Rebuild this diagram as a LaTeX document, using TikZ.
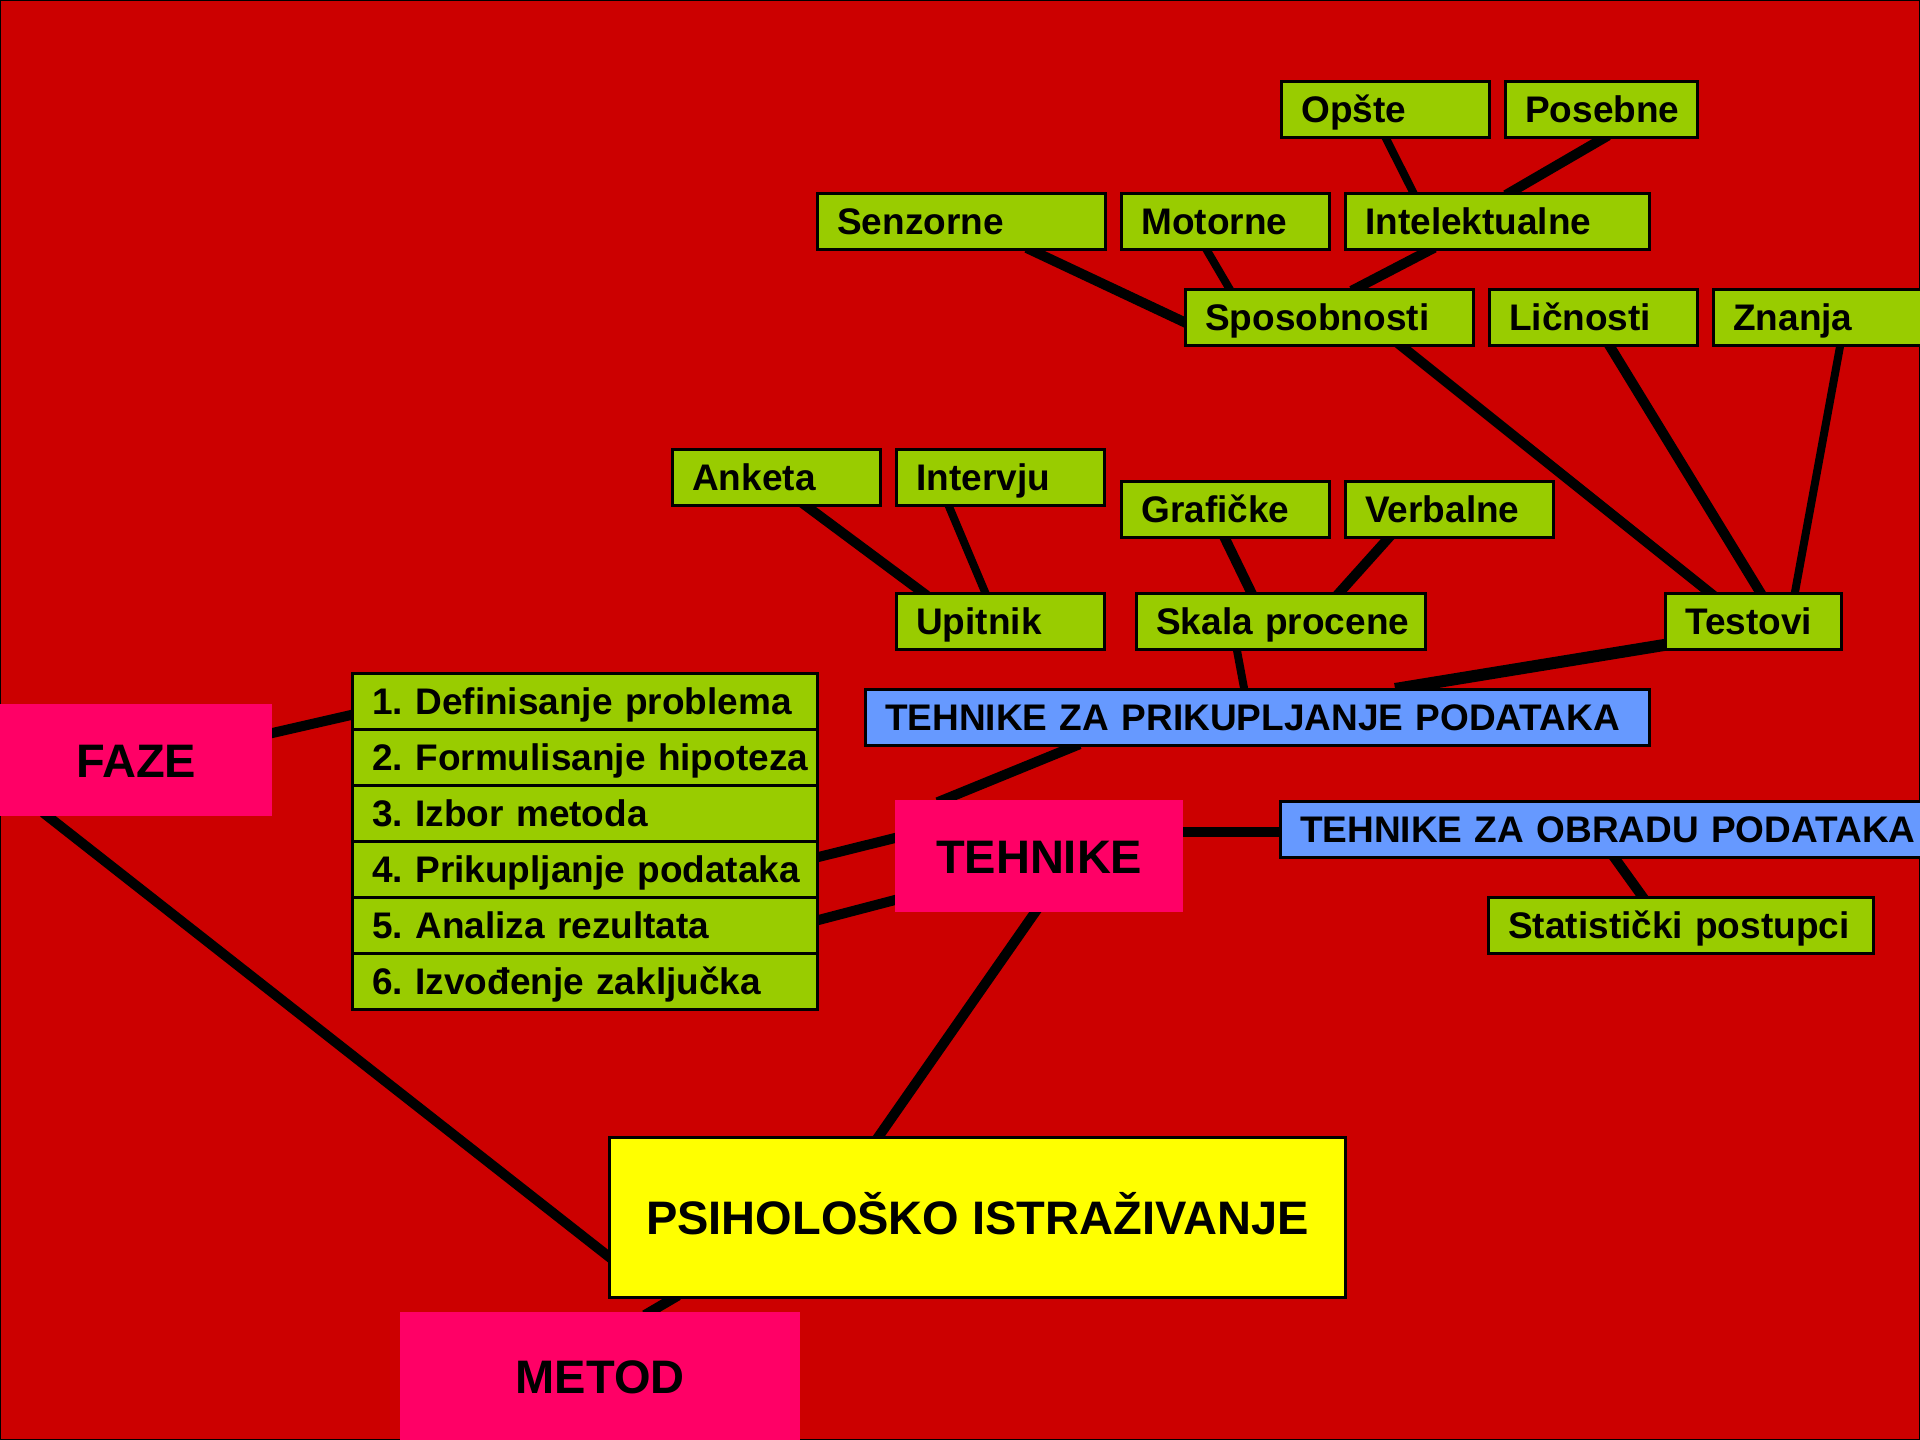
\documentclass[tikz,border=0pt]{standalone}
\usepackage{fontspec}
\setmainfont{Liberation Sans}
\usetikzlibrary{calc}
\pgfdeclarelayer{bg}
\pgfdeclarelayer{lines}
\pgfsetlayers{bg,lines,main}
\definecolor{slidered}{HTML}{CC0000}
\definecolor{boxgreen}{HTML}{99CC00}
\definecolor{boxblue}{HTML}{6699FF}
\definecolor{boxpink}{HTML}{FF0066}
\definecolor{boxyellow}{HTML}{FFFF00}
\begin{document}
\begin{tikzpicture}[x=1pt,y=-1pt,
  gbox/.style={draw=black, line width=2.5pt, fill=boxgreen, anchor=north west,
    inner xsep=0pt, inner ysep=0pt, minimum height=56pt, align=left,
    font=\fontsize{37}{44}\selectfont\bfseries\frenchspacing,
    execute at begin node={\hspace*{20pt}},
    text height=26.5pt, text depth=0pt},
  bbox/.style={gbox, fill=boxblue},
  pbox/.style={fill=boxpink, anchor=north west, inner sep=0pt, align=center,
    font=\fontsize{47}{56}\selectfont\bfseries, text height=33.7pt, text depth=0pt},
  ybox/.style={pbox, fill=boxyellow, draw=black, line width=2.5pt},
  conn/.style={line width=10pt, black, shorten <=-6pt, shorten >=-6pt}]
\useasboundingbox (0,0) rectangle (1920,1440);
\begin{pgfonlayer}{bg}
\fill[slidered] (0,0) rectangle (1920,1440);
\draw[line width=2pt] (0,0) rectangle (1920,1440);
\end{pgfonlayer}

% top tree
\node[gbox, text width=208pt] (opste) at (1280,80) {Opšte};
\node[gbox, text width=192pt] (posebne) at (1504,80) {Posebne};
\node[gbox, text width=288pt] (senz) at (816,192) {Senzorne};
\node[gbox, text width=208pt] (motor) at (1120,192) {Motorne};
\node[gbox, text width=304pt] (intel) at (1344,192) {Intelektualne};
\node[gbox, text width=288pt] (spos) at (1184,288) {Sposobnosti};
\node[gbox, text width=208pt] (lic) at (1488,288) {Ličnosti};
\node[gbox, text width=210pt] (znanja) at (1712,288) {Znanja};
\node[gbox, text width=208pt] (anketa) at (671,448) {Anketa};
\node[gbox, text width=208pt] (intervju) at (895,448) {Intervju};
\node[gbox, text width=208pt] (graf) at (1120,480) {Grafičke};
\node[gbox, text width=208pt] (verb) at (1344,480) {Verbalne};
\node[gbox, text width=208pt] (upitnik) at (895,592) {Upitnik};
\node[gbox, text width=289pt] (skala) at (1135,592) {Skala procene};
\node[gbox, text width=176pt] (testovi) at (1664,592) {Testovi};
\node[bbox, text width=784pt] (prik) at (864,688) {TEHNIKE ZA PRIKUPLJANJE PODATAKA};

% phases
\node[gbox, text width=465pt] (ph1) at (351,672) {1. Definisanje problema};
\node[gbox, text width=465pt] (ph2) at (351,728) {2. Formulisanje hipoteza};
\node[gbox, text width=465pt] (ph3) at (351,784) {3. Izbor metoda};
\node[gbox, text width=465pt] (ph4) at (351,840) {4. Prikupljanje podataka};
\node[gbox, text width=465pt] (ph5) at (351,896) {5. Analiza rezultata};
\node[gbox, text width=465pt] (ph6) at (351,952) {6. Izvođenje zaključka};

\node[pbox, minimum width=272pt, minimum height=112pt] (faze) at (0,704) {FAZE};
\node[pbox, minimum width=288pt, minimum height=112pt] (tehnike) at (895,800) {TEHNIKE};
\node[bbox, text width=660pt] (obrada) at (1279,800) {TEHNIKE ZA OBRADU PODATAKA};
\node[gbox, text width=385pt] (stat) at (1487,896) {Statistički postupci};
\node[ybox, minimum width=736pt, minimum height=160pt] (psih) at (608,1136) {PSIHOLOŠKO ISTRAŽIVANJE};
\node[pbox, minimum width=400pt, minimum height=128pt] (metod) at (400,1312) {METOD};

\begin{pgfonlayer}{lines}
\draw[conn] ($(faze.north east)+(0,29)$) -- ($(ph1.north west)+(0,43)$);
\draw[conn] ($(faze.south west)+(48,0)$) -- ($(psih.north west)+(0,120)$);
\draw[conn] ($(ph4.north east)+(0,17)$) -- ($(tehnike.north west)+(0,38)$);
\draw[conn] ($(ph5.north east)+(0,24)$) -- ($(tehnike.north west)+(0,100)$);
\draw[conn] ($(tehnike.north west)+(48,0)$) -- ($(prik.south west)+(210,0)$);
\draw[conn] ($(tehnike.north east)+(0,32)$) -- ($(obrada.north west)+(0,32)$);
\draw[conn] ($(tehnike.south west)+(140,0)$) -- ($(psih.north west)+(271,0)$);
\draw[conn] ($(psih.south west)+(65,0)$) -- ($(metod.north west)+(250,0)$);
\draw[conn] ($(obrada.south west)+(336,0)$) -- ($(stat.north west)+(155,0)$);
\draw[conn, line width=8pt] ($(skala.south west)+(102,0)$) -- ($(prik.north west)+(380,0)$);
\draw[conn, line width=12pt] ($(testovi.north west)+(0,53)$) -- ($(prik.north west)+(537,0)$);
\draw[conn] ($(graf.south west)+(105,0)$) -- ($(skala.north west)+(116,0)$);
\draw[conn] ($(verb.south west)+(44,0)$) -- ($(skala.north west)+(205,0)$);
\draw[conn] ($(anketa.south west)+(136,0)$) -- ($(upitnik.north west)+(27,0)$);
\draw[conn, line width=8pt] ($(intervju.south west)+(54,0)$) -- ($(upitnik.north west)+(90,0)$);
\draw[conn] ($(spos.south west)+(218,0)$) -- ($(testovi.north west)+(45,0)$);
\draw[conn] ($(lic.south west)+(122,0)$) -- ($(testovi.north west)+(96,0)$);
\draw[conn, line width=8pt] ($(znanja.south west)+(128,0)$) -- ($(testovi.north west)+(131,0)$);
\draw[conn] ($(senz.south west)+(216,0)$) -- ($(spos.north west)+(0,34)$);
\draw[conn, line width=8pt] ($(motor.south west)+(87,0)$) -- ($(spos.north west)+(45,0)$);
\draw[conn] ($(intel.south west)+(85,0)$) -- ($(spos.north west)+(173,0)$);
\draw[conn] ($(posebne.south west)+(99,0)$) -- ($(intel.north west)+(167,0)$);
\draw[conn, line width=8pt] ($(opste.south west)+(106,0)$) -- ($(intel.north west)+(69,0)$);
\end{pgfonlayer}
\end{tikzpicture}
\end{document}
